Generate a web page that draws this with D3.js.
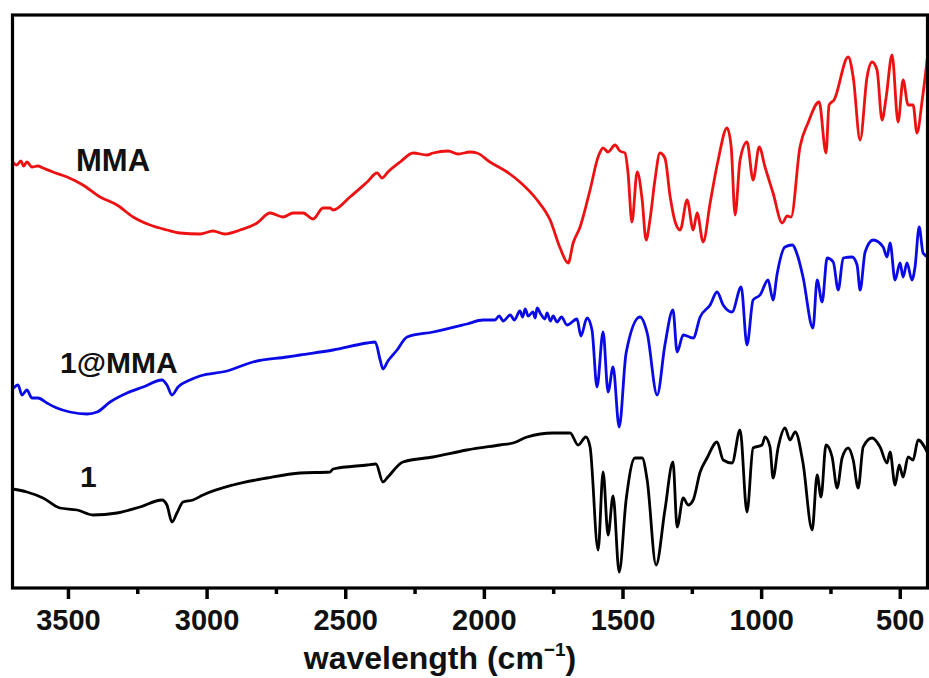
<!DOCTYPE html>
<html>
<head>
<meta charset="utf-8">
<script src="https://cdn.jsdelivr.net/npm/d3@7"></script>
<style>
  html, body { margin: 0; padding: 0; background: #fff; }
  svg { display: block; }
  text { font-family: "Liberation Sans", Arial, sans-serif; font-weight: bold; }
</style>
</head>
<body>
<svg id="chart" width="929" height="678"></svg>
<script>
// ---------- DATA ----------
const majorTicks = [3500, 3000, 2500, 2000, 1500, 1000, 500];
const minorTicks = [3250, 2750, 2250, 1750, 1250, 750];
const seriesNames = ["MMA", "1@MMA", "1"];
const seriesColors = ["#ee1111", "#0a0ae6", "#000000"];

// MMA : [wavenumber, transmittance (a.u., offset)]
const mmaWn = [3700,3685,3670,3660,3648,3630,3608,3590,3554,3503,3446,3384,3323,3265,3204,3143,3096,3024,2977,2934,2879,2818,2771,2724,2688,2652,2616,2580,2555,2544,2483,2421,2385,2367,2346,2302,2255,2205,2183,2129,2093,2050,2025,1978,1916,1870,1808,1761,1725,1696,1678,1653,1617,1588,1570,1552,1527,1509,1491,1480,1466,1447,1429,1415,1401,1383,1365,1347,1328,1310,1292,1267,1245,1231,1209,1184,1155,1123,1108,1094,1076,1051,1029,1007,986,957,924,906,892,860,831,791,766,755,737,686,668,643,618,600,582,564,549,528,506,488,470,452,438,419,398];
const mmaT  = [426,423,427,422,426,421,422,420,416,411,403,391,383,371,363,358,355,354,357,354,358,365,375,371,375,375,369,380,380,378,391,406,415,410,416,426,435,433,435,437,434,436,435,426,416,406,388,368,340,325,345,361,398,431,440,436,443,437,435,415,366,416,388,348,368,408,435,430,391,366,358,388,358,375,346,385,428,460,441,373,428,446,408,441,421,395,365,372,371,441,465,486,435,483,488,531,511,448,511,526,518,468,491,533,466,508,483,483,455,488,536];

// 1@MMA
const mixWn = [3700,3680,3666,3648,3630,3608,3576,3540,3493,3431,3395,3348,3287,3229,3161,3143,3125,3103,3060,3024,2926,2833,2710,2663,2544,2421,2392,2374,2364,2346,2313,2277,2183,2061,2003,1960,1945,1930,1905,1890,1870,1860,1851,1840,1823,1815,1808,1795,1780,1772,1760,1750,1736,1720,1700,1664,1650,1628,1610,1592,1570,1552,1534,1512,1487,1437,1411,1375,1347,1318,1303,1281,1245,1220,1184,1159,1137,1105,1072,1051,1029,1004,975,957,943,914,888,867,849,813,798,780,762,740,722,704,672,654,643,625,596,560,546,535,517,499,488,474,456,445,430,416,398];
const mixT  = [199,203,193,198,190,190,185,180,176,174,176,186,195,201,208,203,193,201,208,212,217,226,231,233,238,245,246,228,219,227,238,251,256,264,268,268,272,267,273,268,277,271,279,272,276,270,280,274,269,275,267,272,266,271,263,269,252,270,258,201,256,196,221,161,235,271,255,193,243,278,236,253,250,271,283,296,283,276,301,243,288,293,308,288,313,341,343,331,311,260,308,286,330,326,298,330,331,323,298,336,348,341,331,345,308,325,311,325,308,321,361,335,331];

// 1
const oneWn = [3700,3648,3590,3529,3467,3410,3323,3240,3161,3143,3125,3107,3085,3049,3013,2905,2782,2663,2555,2544,2421,2389,2364,2346,2292,2183,2061,1942,1895,1844,1750,1689,1660,1632,1617,1588,1570,1552,1534,1512,1487,1455,1429,1411,1379,1347,1318,1303,1281,1263,1245,1220,1195,1159,1137,1105,1076,1051,1029,997,986,968,957,939,914,896,877,849,816,798,784,766,744,726,708,686,668,650,632,600,571,546,535,517,502,488,470,452,434,401];
const oneT  = [99,96,90,80,78,73,75,81,88,83,66,75,86,88,93,103,110,115,116,119,123,124,106,111,126,131,138,143,145,151,155,155,143,151,141,38,116,53,92,16,88,130,130,108,23,78,126,61,90,83,88,116,130,146,128,125,158,76,140,143,151,141,110,140,160,148,156,125,58,113,91,143,131,100,130,140,128,100,141,150,141,125,136,103,123,111,131,128,148,136];

const labelText = ["MMA", "1@MMA", "1"];
const axisTitle = "wavelength (cm";

// ---------- LAYOUT ----------
const svg = d3.select("#chart");
const L = 12.5, R = 927.5, T = 15, B = 588;

const x = d3.scaleLinear().domain([3700, 400]).range([L, R]);
const y = d3.scaleLinear().domain([0, 573]).range([B, T]);

const series = [
  { wn: mmaWn, t: mmaT },
  { wn: mixWn, t: mixT },
  { wn: oneWn, t: oneT }
];

const line = d3.line()
  .x(d => x(d[0]))
  .y(d => y(d[1]))
  .curve(d3.curveMonotoneX);

const plot = svg.append("g");
plot.append("clipPath").attr("id", "clip")
  .append("rect").attr("x", L).attr("y", T).attr("width", R - L).attr("height", B - T);

series.forEach((s, i) => {
  const pts = s.wn.map((w, k) => [w, s.t[k]]);
  plot.append("path")
    .attr("d", line(pts))
    .attr("fill", "none")
    .attr("stroke", seriesColors[i])
    .attr("stroke-width", 2.8)
    .attr("stroke-linejoin", "round")
    .attr("clip-path", "url(#clip)");
});

// axes
const ax = svg.append("g").attr("transform", `translate(0,${B})`)
  .call(d3.axisBottom(x).tickValues(majorTicks).tickSize(11).tickPadding(10).tickFormat(d3.format("d")));
ax.select(".domain").remove();
ax.selectAll(".tick line").attr("stroke", "#000").attr("stroke-width", 3.5);
ax.selectAll(".tick text").attr("font-size", 29).attr("fill", "#111")
  .style("font-family", '"Liberation Sans", Arial, sans-serif').style("font-weight", "bold");

const axm = svg.append("g").attr("transform", `translate(0,${B})`)
  .call(d3.axisBottom(x).tickValues(minorTicks).tickSize(6).tickFormat(""));
axm.select(".domain").remove();
axm.selectAll(".tick line").attr("stroke", "#000").attr("stroke-width", 3.5);

// frame
svg.append("rect")
  .attr("x", L).attr("y", T).attr("width", R - L).attr("height", B - T)
  .attr("fill", "none").attr("stroke", "#000").attr("stroke-width", 3.2);

// series labels
const labelPos = [[76, 171, 31], [60, 373, 30], [80, 487, 30]];
labelText.forEach((t, i) => {
  svg.append("text")
    .attr("x", labelPos[i][0]).attr("y", labelPos[i][1])
    .attr("font-size", labelPos[i][2]).attr("fill", "#111")
    .text(t);
});

// axis title
const title = svg.append("text")
  .attr("x", 440).attr("y", 669)
  .attr("text-anchor", "middle")
  .attr("font-size", 32).attr("fill", "#111");
title.append("tspan").text(axisTitle);
title.append("tspan").attr("dy", -13).attr("font-size", 19).text("\u22121");
title.append("tspan").attr("dy", 13).text(")");
</script>
</body>
</html>
